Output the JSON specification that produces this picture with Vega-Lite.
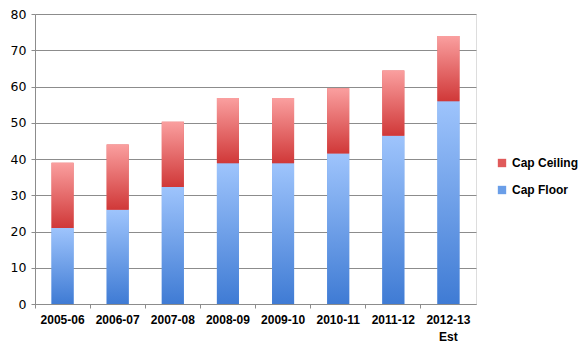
{
  "$schema": "https://vega.github.io/schema/vega-lite/v6.json",
  "width": 441,
  "height": 290,
  "autosize": "none",
  "padding": {"left": 35, "top": 14, "right": 110, "bottom": 47},
  "background": "white",
  "data": {
    "values": [
      {"year": "2005-06", "series": "Cap Floor", "lo": 0, "hi": 21},
      {"year": "2005-06", "series": "Cap Ceiling", "lo": 21, "hi": 39},
      {"year": "2006-07", "series": "Cap Floor", "lo": 0, "hi": 26},
      {"year": "2006-07", "series": "Cap Ceiling", "lo": 26, "hi": 44},
      {"year": "2007-08", "series": "Cap Floor", "lo": 0, "hi": 32.3},
      {"year": "2007-08", "series": "Cap Ceiling", "lo": 32.3, "hi": 50.3},
      {"year": "2008-09", "series": "Cap Floor", "lo": 0, "hi": 38.8},
      {"year": "2008-09", "series": "Cap Ceiling", "lo": 38.8, "hi": 56.8},
      {"year": "2009-10", "series": "Cap Floor", "lo": 0, "hi": 38.8},
      {"year": "2009-10", "series": "Cap Ceiling", "lo": 38.8, "hi": 56.8},
      {"year": "2010-11", "series": "Cap Floor", "lo": 0, "hi": 41.5},
      {"year": "2010-11", "series": "Cap Ceiling", "lo": 41.5, "hi": 59.5},
      {"year": "2011-12", "series": "Cap Floor", "lo": 0, "hi": 46.4},
      {"year": "2011-12", "series": "Cap Ceiling", "lo": 46.4, "hi": 64.4},
      {"year": "2012-13 Est", "series": "Cap Floor", "lo": 0, "hi": 55.9},
      {"year": "2012-13 Est", "series": "Cap Ceiling", "lo": 55.9, "hi": 73.9}
    ]
  },
  "encoding": {
    "x": {
      "field": "year",
      "type": "nominal",
      "sort": null,
      "title": null,
      "scale": {"paddingInner": 0, "paddingOuter": 0},
      "axis": {
        "labelAngle": 0,
        "bandPosition": 0,
        "labelExpr": "split(datum.label, ' ')",
        "labelFont": "Liberation Sans",
        "labelFontWeight": "bold",
        "labelFontSize": 12,
        "labelColor": "#000000",
        "labelPadding": 6,
        "labelLineHeight": 17,
        "tickSize": 4,
        "tickColor": "#8c8c8c",
        "domainColor": "#8c8c8c",
        "grid": false
      }
    },
    "y": {
      "field": "hi",
      "type": "quantitative",
      "title": null,
      "scale": {"domain": [0, 80], "nice": false},
      "axis": {
        "values": [0, 10, 20, 30, 40, 50, 60, 70, 80],
        "labelFont": "DejaVu Sans",
        "labelFontSize": 12.5,
        "labelColor": "#000000",
        "labelPadding": 5,
        "tickSize": 4,
        "tickColor": "#8c8c8c",
        "domainColor": "#8c8c8c",
        "gridColor": "#8c8c8c",
        "gridOpacity": 1
      }
    },
    "y2": {"field": "lo"}
  },
  "layer": [
    {
      "mark": {"type": "bar", "width": {"band": 0.4}},
      "encoding": {
        "color": {
          "field": "series",
          "type": "nominal",
          "scale": {"domain": ["Cap Ceiling", "Cap Floor"], "range": ["#e05a5a", "#6a9ee8"]},
          "legend": {
            "title": null,
            "orient": "none",
            "legendX": 461,
            "legendY": 143,
            "symbolType": "square",
            "symbolSize": 70,
            "symbolStrokeWidth": 0,
            "labelFont": "Liberation Sans",
            "labelFontWeight": "bold",
            "labelFontSize": 12,
            "labelColor": "#000000",
            "rowPadding": 15,
            "labelOffset": 4
          }
        }
      }
    },
    {
      "mark": {"type": "bar", "width": {"band": 0.4}},
      "encoding": {
        "fill": {
          "condition": {
            "test": "datum.series === 'Cap Floor'",
            "value": {
              "gradient": "linear",
              "x1": 0, "y1": 1, "x2": 0, "y2": 0,
              "stops": [
                {"offset": 0, "color": "#3f7bd4"},
                {"offset": 1, "color": "#9ec4fc"}
              ]
            }
          },
          "value": {
            "gradient": "linear",
            "x1": 0, "y1": 1, "x2": 0, "y2": 0,
            "stops": [
              {"offset": 0, "color": "#d03838"},
              {"offset": 1, "color": "#fa9f9f"}
            ]
          }
        }
      }
    }
  ]
}
